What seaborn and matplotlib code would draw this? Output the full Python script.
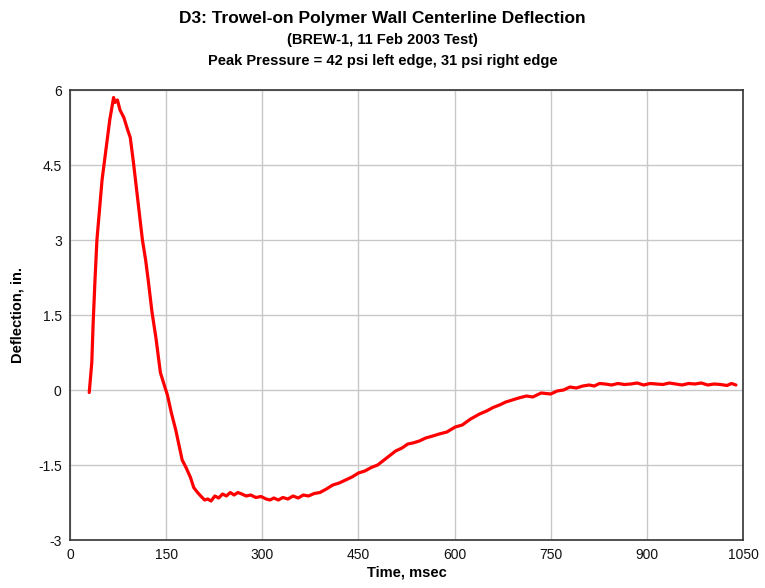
import matplotlib
matplotlib.use("Agg")
import matplotlib.pyplot as plt
import seaborn as sns
import pandas as pd

time_ms = [30, 32, 34, 36, 39, 42, 46, 50, 54, 58, 62, 66, 68, 70, 74, 78, 84, 90, 94, 99,
           104, 108, 113, 118, 122, 128, 134, 141, 147, 152, 158, 165, 170, 175, 181, 188,
           193, 199, 204, 210, 215, 220, 226, 232, 238, 244, 250, 256, 262, 268, 275, 282,
           290, 298, 306, 312, 318, 325, 332, 340, 348, 356, 364, 372, 381, 390, 400, 410,
           420, 430, 440, 450, 460, 470, 480, 488, 498, 508, 518, 527, 535, 545, 555, 566,
           576, 588, 601, 612, 625, 639, 650, 660, 670, 680, 690, 700, 712, 722, 735, 750,
           760, 770, 780, 790, 800, 810, 818, 826, 835, 845, 855, 865, 875, 885, 895, 905,
           915, 925, 935, 945, 955, 965, 975, 985, 995, 1005, 1015, 1025, 1032, 1039]
deflection = [-0.05, 0.25, 0.55, 1.3, 2.2, 3.0, 3.6, 4.2, 4.6, 5.0, 5.4, 5.7, 5.85, 5.75, 5.8,
              5.6, 5.45, 5.2, 5.05, 4.55, 4.0, 3.55, 3.0, 2.6, 2.2, 1.55, 1.05, 0.35, 0.1,
              -0.1, -0.45, -0.8, -1.1, -1.4, -1.55, -1.75, -1.95, -2.05, -2.12, -2.2, -2.18,
              -2.22, -2.12, -2.16, -2.08, -2.12, -2.05, -2.1, -2.05, -2.08, -2.12, -2.1,
              -2.15, -2.13, -2.18, -2.2, -2.16, -2.2, -2.15, -2.18, -2.12, -2.16, -2.1, -2.12,
              -2.07, -2.05, -1.98, -1.9, -1.86, -1.8, -1.74, -1.66, -1.62, -1.55, -1.5, -1.42,
              -1.32, -1.22, -1.16, -1.08, -1.06, -1.02, -0.96, -0.92, -0.88, -0.84, -0.74,
              -0.7, -0.58, -0.48, -0.42, -0.35, -0.3, -0.24, -0.2, -0.16, -0.12, -0.14, -0.06,
              -0.08, -0.02, 0.0, 0.06, 0.04, 0.08, 0.1, 0.08, 0.13, 0.12, 0.1, 0.13, 0.11,
              0.12, 0.14, 0.1, 0.13, 0.12, 0.11, 0.14, 0.12, 0.1, 0.13, 0.12, 0.14, 0.1, 0.12,
              0.11, 0.09, 0.13, 0.1]

df = pd.DataFrame({"Time, msec": time_ms, "Deflection, in.": deflection})

sns.set_style("white")
plt.rcParams["font.family"] = ["Liberation Sans", "DejaVu Sans"]
plt.rcParams["text.color"] = "black"
plt.rcParams["axes.labelcolor"] = "black"

fig = plt.figure(figsize=(7.65, 5.88), dpi=100)
ax = fig.add_axes([70 / 765, 1 - 540 / 588, 673 / 765, 450 / 588])

sns.lineplot(data=df, x="Time, msec", y="Deflection, in.", ax=ax, color="#ff0000",
             linewidth=2.3, zorder=3)

ax.set_xlim(0, 1050)
ax.set_ylim(-3, 6)
ax.set_xticks([0, 150, 300, 450, 600, 750, 900, 1050])
ax.set_xticklabels(["0", "150", "300", "450", "600", "750", "900", "1050"])
ax.set_yticks([-3, -1.5, 0, 1.5, 3, 4.5, 6])
ax.set_yticklabels(["-3", "-1.5", "0", "1.5", "3", "4.5", "6"])
ax.grid(True, color="#c8c8c8", linewidth=1.0)
ax.tick_params(axis="both", length=0, labelsize=10, colors="#111111", pad=6)
for s in ax.spines.values():
    s.set_color("#333333")
    s.set_linewidth(1.2)

ax.set_xlabel("Time, msec", fontsize=10.5, fontweight="bold", labelpad=2)
ax.set_ylabel("Deflection, in.", fontsize=10.5, fontweight="bold", labelpad=10)

fig.text(0.5, 1 - 18 / 588, "D3: Trowel-on Polymer Wall Centerline Deflection",
         ha="center", va="center", fontsize=12.5, fontweight="bold")
fig.text(0.5, 1 - 40 / 588, "(BREW-1, 11 Feb 2003 Test)",
         ha="center", va="center", fontsize=10.5, fontweight="bold")
fig.text(0.5, 1 - 61 / 588, "Peak Pressure = 42 psi left edge, 31 psi right edge",
         ha="center", va="center", fontsize=10.5, fontweight="bold")

fig.savefig("out.png", dpi=100)
